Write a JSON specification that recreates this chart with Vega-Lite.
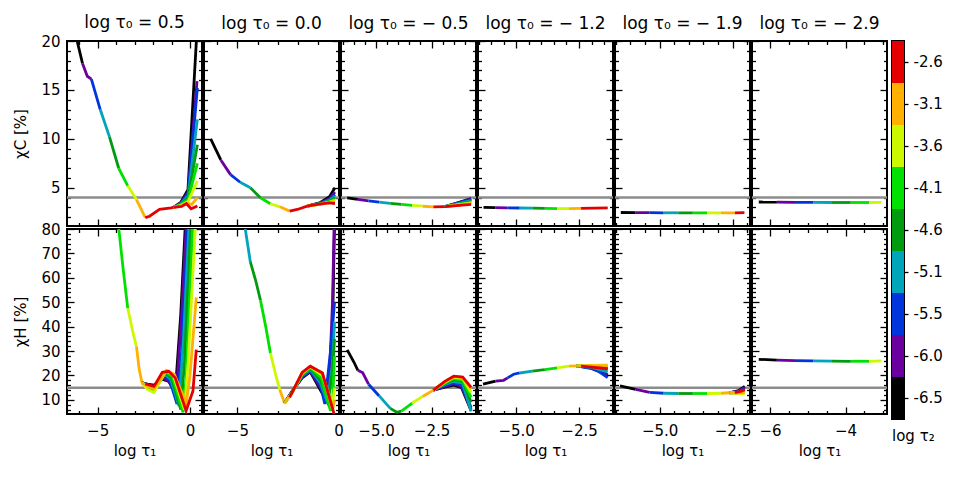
{
  "$schema": "https://vega.github.io/schema/vega-lite/v6.json",
  "padding": {"left": 12, "top": 13, "right": 5, "bottom": 5},
  "config": {
    "font": "DejaVu Sans",
    "view": {"stroke": "#000", "strokeWidth": 2},
    "axis": {"domain": false, "grid": false, "tickColor": "#000", "tickWidth": 1.3, "labelColor": "#000", "labelFontSize": 15, "labelOverlap": false, "labelFlush": false, "titleColor": "#000", "titleFontSize": 15, "titleFontWeight": "normal", "labelPadding": 14, "minExtent": 0},
    "axisX": {"labelPadding": 16, "titlePadding": 2},
    "axisY": {"titlePadding": 12},
    "title": {"fontSize": 17, "fontWeight": "normal", "color": "#000", "offset": 7, "frame": "group"}
  },
  "datasets": {
    "curves": [
      {"p":"1C","s":"t","l":"-6.5","x":-6.3,"y":21.5},{"p":"1C","s":"t","l":"-6.5","x":-5.82,"y":17.7},
      {"p":"1C","s":"t","l":"-6.0","x":-5.82,"y":17.7},{"p":"1C","s":"t","l":"-6.0","x":-5.56,"y":16.4},{"p":"1C","s":"t","l":"-6.0","x":-5.34,"y":16.1},
      {"p":"1C","s":"t","l":"-5.5","x":-5.34,"y":16.1},{"p":"1C","s":"t","l":"-5.5","x":-4.86,"y":13.0},
      {"p":"1C","s":"t","l":"-5.1","x":-4.86,"y":13.0},{"p":"1C","s":"t","l":"-5.1","x":-4.36,"y":10.2},
      {"p":"1C","s":"t","l":"-4.6","x":-4.36,"y":10.2},{"p":"1C","s":"t","l":"-4.6","x":-3.86,"y":7.0},
      {"p":"1C","s":"t","l":"-4.1","x":-3.86,"y":7.0},{"p":"1C","s":"t","l":"-4.1","x":-3.37,"y":5.2},
      {"p":"1C","s":"t","l":"-3.6","x":-3.37,"y":5.2},{"p":"1C","s":"t","l":"-3.6","x":-2.9,"y":3.8},
      {"p":"1C","s":"t","l":"-3.1","x":-2.9,"y":3.8},{"p":"1C","s":"t","l":"-3.1","x":-2.42,"y":1.95},
      {"p":"1C","s":"t","l":"-2.6","x":-2.42,"y":1.95},{"p":"1C","s":"t","l":"-2.6","x":-2.19,"y":2.1},{"p":"1C","s":"t","l":"-2.6","x":-1.65,"y":2.8},{"p":"1C","s":"t","l":"-2.6","x":-1.02,"y":2.96},{"p":"1C","s":"t","l":"-2.6","x":-0.9,"y":3.0},
      {"p":"1C","s":"f","l":"-6.5","x":-0.9,"y":3.0},{"p":"1C","s":"f","l":"-6.5","x":-0.5,"y":3.5},{"p":"1C","s":"f","l":"-6.5","x":-0.11,"y":4.8},{"p":"1C","s":"f","l":"-6.5","x":0.42,"y":22.5},
      {"p":"1C","s":"f","l":"-6.0","x":-0.9,"y":3.0},{"p":"1C","s":"f","l":"-6.0","x":-0.5,"y":3.45},{"p":"1C","s":"f","l":"-6.0","x":-0.1,"y":4.6},{"p":"1C","s":"f","l":"-6.0","x":0.38,"y":15.9},
      {"p":"1C","s":"f","l":"-5.5","x":-0.9,"y":3.0},{"p":"1C","s":"f","l":"-5.5","x":-0.5,"y":3.4},{"p":"1C","s":"f","l":"-5.5","x":-0.1,"y":4.4},{"p":"1C","s":"f","l":"-5.5","x":0.4,"y":15.2},
      {"p":"1C","s":"f","l":"-5.1","x":-0.9,"y":3.0},{"p":"1C","s":"f","l":"-5.1","x":-0.5,"y":3.35},{"p":"1C","s":"f","l":"-5.1","x":-0.1,"y":4.2},{"p":"1C","s":"f","l":"-5.1","x":0.4,"y":12.0},
      {"p":"1C","s":"f","l":"-4.6","x":-0.9,"y":3.0},{"p":"1C","s":"f","l":"-4.6","x":-0.5,"y":3.3},{"p":"1C","s":"f","l":"-4.6","x":-0.1,"y":4.0},{"p":"1C","s":"f","l":"-4.6","x":0.4,"y":9.4},
      {"p":"1C","s":"f","l":"-4.1","x":-0.9,"y":3.0},{"p":"1C","s":"f","l":"-4.1","x":-0.5,"y":3.25},{"p":"1C","s":"f","l":"-4.1","x":-0.1,"y":3.8},{"p":"1C","s":"f","l":"-4.1","x":0.4,"y":7.5},
      {"p":"1C","s":"f","l":"-3.6","x":-0.9,"y":3.0},{"p":"1C","s":"f","l":"-3.6","x":-0.5,"y":3.2},{"p":"1C","s":"f","l":"-3.6","x":-0.1,"y":3.6},{"p":"1C","s":"f","l":"-3.6","x":0.4,"y":5.7},
      {"p":"1C","s":"f","l":"-3.1","x":-0.9,"y":3.0},{"p":"1C","s":"f","l":"-3.1","x":-0.5,"y":3.15},{"p":"1C","s":"f","l":"-3.1","x":-0.1,"y":3.4},{"p":"1C","s":"f","l":"-3.1","x":0.1,"y":3.3},{"p":"1C","s":"f","l":"-3.1","x":0.4,"y":4.0},
      {"p":"1C","s":"f","l":"-2.6","x":-0.9,"y":3.0},{"p":"1C","s":"f","l":"-2.6","x":-0.45,"y":3.1},{"p":"1C","s":"f","l":"-2.6","x":-0.2,"y":3.4},{"p":"1C","s":"f","l":"-2.6","x":0.06,"y":2.86},{"p":"1C","s":"f","l":"-2.6","x":0.4,"y":3.15},

      {"p":"1H","s":"t","l":"-4.1","x":-3.86,"y":80.5},{"p":"1H","s":"t","l":"-4.1","x":-3.63,"y":64.3},{"p":"1H","s":"t","l":"-4.1","x":-3.37,"y":47.5},
      {"p":"1H","s":"t","l":"-3.6","x":-3.37,"y":47.5},{"p":"1H","s":"t","l":"-3.6","x":-3.1,"y":38.0},{"p":"1H","s":"t","l":"-3.6","x":-2.9,"y":31.9},
      {"p":"1H","s":"t","l":"-3.1","x":-2.9,"y":31.9},{"p":"1H","s":"t","l":"-3.1","x":-2.75,"y":22.5},{"p":"1H","s":"t","l":"-3.1","x":-2.6,"y":17.0},
      {"p":"1H","s":"f","l":"-6.5","x":-2.6,"y":17.0},{"p":"1H","s":"f","l":"-6.5","x":-2.3,"y":16.4},{"p":"1H","s":"f","l":"-6.5","x":-1.95,"y":16.0},{"p":"1H","s":"f","l":"-6.5","x":-1.5,"y":18.5},{"p":"1H","s":"f","l":"-6.5","x":-1.15,"y":17.5},{"p":"1H","s":"f","l":"-6.5","x":-0.8,"y":13.0},{"p":"1H","s":"f","l":"-6.5","x":-0.5,"y":45.0},{"p":"1H","s":"f","l":"-6.5","x":-0.25,"y":82.0},
      {"p":"1H","s":"f","l":"-6.0","x":-2.6,"y":17.0},{"p":"1H","s":"f","l":"-6.0","x":-2.3,"y":16.2},{"p":"1H","s":"f","l":"-6.0","x":-1.95,"y":15.5},{"p":"1H","s":"f","l":"-6.0","x":-1.5,"y":19.0},{"p":"1H","s":"f","l":"-6.0","x":-1.15,"y":17.8},{"p":"1H","s":"f","l":"-6.0","x":-0.75,"y":12.0},{"p":"1H","s":"f","l":"-6.0","x":-0.45,"y":45.0},{"p":"1H","s":"f","l":"-6.0","x":-0.2,"y":82.0},
      {"p":"1H","s":"f","l":"-5.5","x":-2.6,"y":17.0},{"p":"1H","s":"f","l":"-5.5","x":-2.3,"y":16.0},{"p":"1H","s":"f","l":"-5.5","x":-1.95,"y":15.0},{"p":"1H","s":"f","l":"-5.5","x":-1.45,"y":20.0},{"p":"1H","s":"f","l":"-5.5","x":-1.1,"y":18.0},{"p":"1H","s":"f","l":"-5.5","x":-0.7,"y":8.3},{"p":"1H","s":"f","l":"-5.5","x":-0.45,"y":30.0},{"p":"1H","s":"f","l":"-5.5","x":-0.12,"y":82.0},
      {"p":"1H","s":"f","l":"-5.1","x":-2.6,"y":17.0},{"p":"1H","s":"f","l":"-5.1","x":-2.3,"y":15.6},{"p":"1H","s":"f","l":"-5.1","x":-1.95,"y":14.5},{"p":"1H","s":"f","l":"-5.1","x":-1.4,"y":20.5},{"p":"1H","s":"f","l":"-5.1","x":-1.05,"y":18.5},{"p":"1H","s":"f","l":"-5.1","x":-0.6,"y":7.5},{"p":"1H","s":"f","l":"-5.1","x":-0.35,"y":35.0},{"p":"1H","s":"f","l":"-5.1","x":-0.05,"y":82.0},
      {"p":"1H","s":"f","l":"-4.6","x":-2.6,"y":17.0},{"p":"1H","s":"f","l":"-4.6","x":-2.3,"y":15.2},{"p":"1H","s":"f","l":"-4.6","x":-1.95,"y":14.0},{"p":"1H","s":"f","l":"-4.6","x":-1.35,"y":21.0},{"p":"1H","s":"f","l":"-4.6","x":-1.0,"y":19.0},{"p":"1H","s":"f","l":"-4.6","x":-0.5,"y":6.0},{"p":"1H","s":"f","l":"-4.6","x":-0.3,"y":25.0},{"p":"1H","s":"f","l":"-4.6","x":0.05,"y":82.0},
      {"p":"1H","s":"f","l":"-4.1","x":-2.6,"y":17.0},{"p":"1H","s":"f","l":"-4.1","x":-2.3,"y":14.8},{"p":"1H","s":"f","l":"-4.1","x":-1.95,"y":13.5},{"p":"1H","s":"f","l":"-4.1","x":-1.3,"y":21.5},{"p":"1H","s":"f","l":"-4.1","x":-0.95,"y":19.5},{"p":"1H","s":"f","l":"-4.1","x":-0.38,"y":4.9},{"p":"1H","s":"f","l":"-4.1","x":-0.2,"y":20.0},{"p":"1H","s":"f","l":"-4.1","x":0.15,"y":82.0},
      {"p":"1H","s":"f","l":"-3.6","x":-2.6,"y":17.0},{"p":"1H","s":"f","l":"-3.6","x":-2.3,"y":14.2},{"p":"1H","s":"f","l":"-3.6","x":-1.95,"y":13.0},{"p":"1H","s":"f","l":"-3.6","x":-1.3,"y":22.0},{"p":"1H","s":"f","l":"-3.6","x":-0.9,"y":20.0},{"p":"1H","s":"f","l":"-3.6","x":-0.3,"y":6.0},{"p":"1H","s":"f","l":"-3.6","x":-0.1,"y":25.0},{"p":"1H","s":"f","l":"-3.6","x":0.3,"y":82.0},
      {"p":"1H","s":"f","l":"-3.1","x":-2.6,"y":17.0},{"p":"1H","s":"f","l":"-3.1","x":-2.3,"y":15.5},{"p":"1H","s":"f","l":"-3.1","x":-1.95,"y":14.5},{"p":"1H","s":"f","l":"-3.1","x":-1.25,"y":22.0},{"p":"1H","s":"f","l":"-3.1","x":-0.85,"y":20.5},{"p":"1H","s":"f","l":"-3.1","x":-0.2,"y":8.5},{"p":"1H","s":"f","l":"-3.1","x":0.0,"y":20.0},{"p":"1H","s":"f","l":"-3.1","x":0.34,"y":52.0},
      {"p":"1H","s":"f","l":"-2.6","x":-2.42,"y":16.5},{"p":"1H","s":"f","l":"-2.6","x":-1.95,"y":15.5},{"p":"1H","s":"f","l":"-2.6","x":-1.5,"y":21.3},{"p":"1H","s":"f","l":"-2.6","x":-1.15,"y":21.7},{"p":"1H","s":"f","l":"-2.6","x":-0.8,"y":19.0},{"p":"1H","s":"f","l":"-2.6","x":-0.21,"y":5.5},{"p":"1H","s":"f","l":"-2.6","x":0.16,"y":13.6},{"p":"1H","s":"f","l":"-2.6","x":0.34,"y":30.6},

      {"p":"2C","s":"t","l":"-6.5","x":-6.32,"y":10.0},{"p":"2C","s":"t","l":"-6.5","x":-5.82,"y":7.85},
      {"p":"2C","s":"t","l":"-6.0","x":-5.82,"y":7.85},{"p":"2C","s":"t","l":"-6.0","x":-5.34,"y":6.35},
      {"p":"2C","s":"t","l":"-5.5","x":-5.34,"y":6.35},{"p":"2C","s":"t","l":"-5.5","x":-4.86,"y":5.57},
      {"p":"2C","s":"t","l":"-5.1","x":-4.86,"y":5.57},{"p":"2C","s":"t","l":"-5.1","x":-4.36,"y":5.0},
      {"p":"2C","s":"t","l":"-4.6","x":-4.36,"y":5.0},{"p":"2C","s":"t","l":"-4.6","x":-3.86,"y":3.98},
      {"p":"2C","s":"t","l":"-4.1","x":-3.86,"y":3.98},{"p":"2C","s":"t","l":"-4.1","x":-3.37,"y":3.37},
      {"p":"2C","s":"t","l":"-3.6","x":-3.37,"y":3.37},{"p":"2C","s":"t","l":"-3.6","x":-2.9,"y":3.06},
      {"p":"2C","s":"t","l":"-3.1","x":-2.9,"y":3.06},{"p":"2C","s":"t","l":"-3.1","x":-2.42,"y":2.62},
      {"p":"2C","s":"t","l":"-2.6","x":-2.42,"y":2.62},{"p":"2C","s":"t","l":"-2.6","x":-2.04,"y":2.79},{"p":"2C","s":"t","l":"-2.6","x":-1.55,"y":3.13},
      {"p":"2C","s":"f","l":"-6.5","x":-1.55,"y":3.13},{"p":"2C","s":"f","l":"-6.5","x":-0.9,"y":3.5},{"p":"2C","s":"f","l":"-6.5","x":-0.45,"y":4.1},{"p":"2C","s":"f","l":"-6.5","x":-0.18,"y":5.0},
      {"p":"2C","s":"f","l":"-6.0","x":-1.55,"y":3.13},{"p":"2C","s":"f","l":"-6.0","x":-0.9,"y":3.45},{"p":"2C","s":"f","l":"-6.0","x":-0.45,"y":3.9},{"p":"2C","s":"f","l":"-6.0","x":-0.18,"y":4.56},
      {"p":"2C","s":"f","l":"-5.5","x":-1.55,"y":3.13},{"p":"2C","s":"f","l":"-5.5","x":-0.9,"y":3.42},{"p":"2C","s":"f","l":"-5.5","x":-0.45,"y":3.8},{"p":"2C","s":"f","l":"-5.5","x":-0.18,"y":4.32},
      {"p":"2C","s":"f","l":"-5.1","x":-1.55,"y":3.13},{"p":"2C","s":"f","l":"-5.1","x":-0.9,"y":3.4},{"p":"2C","s":"f","l":"-5.1","x":-0.45,"y":3.72},{"p":"2C","s":"f","l":"-5.1","x":-0.18,"y":4.15},
      {"p":"2C","s":"f","l":"-4.6","x":-1.55,"y":3.13},{"p":"2C","s":"f","l":"-4.6","x":-0.9,"y":3.38},{"p":"2C","s":"f","l":"-4.6","x":-0.45,"y":3.65},{"p":"2C","s":"f","l":"-4.6","x":-0.18,"y":3.98},
      {"p":"2C","s":"f","l":"-4.1","x":-1.55,"y":3.13},{"p":"2C","s":"f","l":"-4.1","x":-0.9,"y":3.36},{"p":"2C","s":"f","l":"-4.1","x":-0.45,"y":3.58},{"p":"2C","s":"f","l":"-4.1","x":-0.18,"y":3.81},
      {"p":"2C","s":"f","l":"-3.6","x":-1.55,"y":3.13},{"p":"2C","s":"f","l":"-3.6","x":-0.9,"y":3.34},{"p":"2C","s":"f","l":"-3.6","x":-0.45,"y":3.54},{"p":"2C","s":"f","l":"-3.6","x":-0.18,"y":3.71},
      {"p":"2C","s":"f","l":"-3.1","x":-1.55,"y":3.13},{"p":"2C","s":"f","l":"-3.1","x":-0.9,"y":3.32},{"p":"2C","s":"f","l":"-3.1","x":-0.45,"y":3.5},{"p":"2C","s":"f","l":"-3.1","x":-0.18,"y":3.57},
      {"p":"2C","s":"f","l":"-2.6","x":-1.55,"y":3.13},{"p":"2C","s":"f","l":"-2.6","x":-1.06,"y":3.3},{"p":"2C","s":"f","l":"-2.6","x":-0.48,"y":3.47},{"p":"2C","s":"f","l":"-2.6","x":-0.18,"y":3.4},

      {"p":"2H","s":"t","l":"-5.1","x":-4.62,"y":80.5},{"p":"2H","s":"t","l":"-5.1","x":-4.36,"y":66.5},
      {"p":"2H","s":"t","l":"-4.6","x":-4.36,"y":66.5},{"p":"2H","s":"t","l":"-4.6","x":-4.1,"y":59.0},{"p":"2H","s":"t","l":"-4.6","x":-3.86,"y":50.8},
      {"p":"2H","s":"t","l":"-4.1","x":-3.86,"y":50.8},{"p":"2H","s":"t","l":"-4.1","x":-3.6,"y":40.0},{"p":"2H","s":"t","l":"-4.1","x":-3.37,"y":29.2},
      {"p":"2H","s":"t","l":"-3.6","x":-3.37,"y":29.2},{"p":"2H","s":"t","l":"-3.6","x":-3.1,"y":20.0},{"p":"2H","s":"t","l":"-3.6","x":-2.9,"y":14.0},
      {"p":"2H","s":"t","l":"-3.1","x":-2.9,"y":14.0},{"p":"2H","s":"t","l":"-3.1","x":-2.67,"y":8.7},
      {"p":"2H","s":"f","l":"-6.5","x":-2.67,"y":8.7},{"p":"2H","s":"f","l":"-6.5","x":-2.3,"y":13.5},{"p":"2H","s":"f","l":"-6.5","x":-1.8,"y":19.0},{"p":"2H","s":"f","l":"-6.5","x":-1.4,"y":21.5},{"p":"2H","s":"f","l":"-6.5","x":-0.9,"y":14.0},{"p":"2H","s":"f","l":"-6.5","x":-0.55,"y":9.0},{"p":"2H","s":"f","l":"-6.5","x":-0.3,"y":40.0},{"p":"2H","s":"f","l":"-6.5","x":-0.2,"y":82.0},
      {"p":"2H","s":"f","l":"-6.0","x":-2.67,"y":8.7},{"p":"2H","s":"f","l":"-6.0","x":-2.3,"y":13.3},{"p":"2H","s":"f","l":"-6.0","x":-1.8,"y":19.3},{"p":"2H","s":"f","l":"-6.0","x":-1.4,"y":21.8},{"p":"2H","s":"f","l":"-6.0","x":-0.9,"y":15.0},{"p":"2H","s":"f","l":"-6.0","x":-0.5,"y":10.0},{"p":"2H","s":"f","l":"-6.0","x":-0.3,"y":50.0},{"p":"2H","s":"f","l":"-6.0","x":-0.22,"y":82.0},
      {"p":"2H","s":"f","l":"-5.5","x":-2.67,"y":8.7},{"p":"2H","s":"f","l":"-5.5","x":-2.3,"y":13.2},{"p":"2H","s":"f","l":"-5.5","x":-1.8,"y":19.6},{"p":"2H","s":"f","l":"-5.5","x":-1.4,"y":22.0},{"p":"2H","s":"f","l":"-5.5","x":-0.9,"y":16.0},{"p":"2H","s":"f","l":"-5.5","x":-0.68,"y":8.3},{"p":"2H","s":"f","l":"-5.5","x":-0.4,"y":30.0},{"p":"2H","s":"f","l":"-5.5","x":-0.2,"y":50.0},
      {"p":"2H","s":"f","l":"-5.1","x":-2.67,"y":8.7},{"p":"2H","s":"f","l":"-5.1","x":-2.3,"y":13.1},{"p":"2H","s":"f","l":"-5.1","x":-1.8,"y":19.9},{"p":"2H","s":"f","l":"-5.1","x":-1.4,"y":22.5},{"p":"2H","s":"f","l":"-5.1","x":-0.9,"y":17.0},{"p":"2H","s":"f","l":"-5.1","x":-0.55,"y":9.0},{"p":"2H","s":"f","l":"-5.1","x":-0.3,"y":25.0},{"p":"2H","s":"f","l":"-5.1","x":-0.2,"y":42.0},
      {"p":"2H","s":"f","l":"-4.6","x":-2.67,"y":8.7},{"p":"2H","s":"f","l":"-4.6","x":-2.3,"y":13.0},{"p":"2H","s":"f","l":"-4.6","x":-1.8,"y":20.2},{"p":"2H","s":"f","l":"-4.6","x":-1.4,"y":23.0},{"p":"2H","s":"f","l":"-4.6","x":-0.9,"y":18.0},{"p":"2H","s":"f","l":"-4.6","x":-0.5,"y":10.0},{"p":"2H","s":"f","l":"-4.6","x":-0.3,"y":22.0},{"p":"2H","s":"f","l":"-4.6","x":-0.2,"y":35.0},
      {"p":"2H","s":"f","l":"-4.1","x":-2.67,"y":8.7},{"p":"2H","s":"f","l":"-4.1","x":-2.3,"y":12.9},{"p":"2H","s":"f","l":"-4.1","x":-1.8,"y":20.5},{"p":"2H","s":"f","l":"-4.1","x":-1.4,"y":23.3},{"p":"2H","s":"f","l":"-4.1","x":-0.85,"y":19.0},{"p":"2H","s":"f","l":"-4.1","x":-0.4,"y":5.5},{"p":"2H","s":"f","l":"-4.1","x":-0.28,"y":12.0},{"p":"2H","s":"f","l":"-4.1","x":-0.2,"y":28.0},
      {"p":"2H","s":"f","l":"-3.6","x":-2.67,"y":8.7},{"p":"2H","s":"f","l":"-3.6","x":-2.3,"y":12.8},{"p":"2H","s":"f","l":"-3.6","x":-1.8,"y":20.8},{"p":"2H","s":"f","l":"-3.6","x":-1.4,"y":23.5},{"p":"2H","s":"f","l":"-3.6","x":-0.8,"y":20.0},{"p":"2H","s":"f","l":"-3.6","x":-0.3,"y":8.0},{"p":"2H","s":"f","l":"-3.6","x":-0.2,"y":15.0},
      {"p":"2H","s":"f","l":"-3.1","x":-2.67,"y":8.7},{"p":"2H","s":"f","l":"-3.1","x":-2.3,"y":12.7},{"p":"2H","s":"f","l":"-3.1","x":-1.8,"y":21.0},{"p":"2H","s":"f","l":"-3.1","x":-1.4,"y":23.7},{"p":"2H","s":"f","l":"-3.1","x":-0.8,"y":21.0},{"p":"2H","s":"f","l":"-3.1","x":-0.3,"y":6.0},{"p":"2H","s":"f","l":"-3.1","x":-0.2,"y":10.0},
      {"p":"2H","s":"f","l":"-2.6","x":-2.42,"y":11.0},{"p":"2H","s":"f","l":"-2.6","x":-1.8,"y":21.2},{"p":"2H","s":"f","l":"-2.6","x":-1.4,"y":23.8},{"p":"2H","s":"f","l":"-2.6","x":-0.8,"y":21.0},{"p":"2H","s":"f","l":"-2.6","x":-0.35,"y":8.0},{"p":"2H","s":"f","l":"-2.6","x":-0.2,"y":3.5},

      {"p":"3C","s":"t","l":"-6.5","x":-6.3,"y":3.98},{"p":"3C","s":"t","l":"-6.5","x":-5.82,"y":3.82},
      {"p":"3C","s":"t","l":"-6.0","x":-5.82,"y":3.82},{"p":"3C","s":"t","l":"-6.0","x":-5.34,"y":3.66},
      {"p":"3C","s":"t","l":"-5.5","x":-5.34,"y":3.66},{"p":"3C","s":"t","l":"-5.5","x":-4.86,"y":3.54},
      {"p":"3C","s":"t","l":"-5.1","x":-4.86,"y":3.54},{"p":"3C","s":"t","l":"-5.1","x":-4.36,"y":3.42},
      {"p":"3C","s":"t","l":"-4.6","x":-4.36,"y":3.42},{"p":"3C","s":"t","l":"-4.6","x":-3.86,"y":3.3},
      {"p":"3C","s":"t","l":"-4.1","x":-3.86,"y":3.3},{"p":"3C","s":"t","l":"-4.1","x":-3.37,"y":3.2},
      {"p":"3C","s":"t","l":"-3.6","x":-3.37,"y":3.2},{"p":"3C","s":"t","l":"-3.6","x":-2.9,"y":3.12},
      {"p":"3C","s":"t","l":"-3.1","x":-2.9,"y":3.12},{"p":"3C","s":"t","l":"-3.1","x":-2.42,"y":3.05},
      {"p":"3C","s":"t","l":"-2.6","x":-2.42,"y":3.05},{"p":"3C","s":"t","l":"-2.6","x":-1.9,"y":3.07},
      {"p":"3C","s":"f","l":"-6.5","x":-1.9,"y":3.07},{"p":"3C","s":"f","l":"-6.5","x":-0.72,"y":3.9},
      {"p":"3C","s":"f","l":"-6.0","x":-1.9,"y":3.07},{"p":"3C","s":"f","l":"-6.0","x":-0.72,"y":3.85},
      {"p":"3C","s":"f","l":"-5.5","x":-1.9,"y":3.07},{"p":"3C","s":"f","l":"-5.5","x":-0.72,"y":3.8},
      {"p":"3C","s":"f","l":"-5.1","x":-1.9,"y":3.07},{"p":"3C","s":"f","l":"-5.1","x":-0.72,"y":3.7},
      {"p":"3C","s":"f","l":"-4.6","x":-1.9,"y":3.07},{"p":"3C","s":"f","l":"-4.6","x":-0.72,"y":3.6},
      {"p":"3C","s":"f","l":"-4.1","x":-1.9,"y":3.07},{"p":"3C","s":"f","l":"-4.1","x":-0.72,"y":3.5},
      {"p":"3C","s":"f","l":"-3.6","x":-1.9,"y":3.07},{"p":"3C","s":"f","l":"-3.6","x":-0.72,"y":3.45},
      {"p":"3C","s":"f","l":"-3.1","x":-1.9,"y":3.07},{"p":"3C","s":"f","l":"-3.1","x":-0.72,"y":3.38},
      {"p":"3C","s":"f","l":"-2.6","x":-1.9,"y":3.07},{"p":"3C","s":"f","l":"-2.6","x":-0.72,"y":3.3},

      {"p":"3H","s":"t","l":"-6.5","x":-6.3,"y":30.5},{"p":"3H","s":"t","l":"-6.5","x":-6.0,"y":25.5},{"p":"3H","s":"t","l":"-6.5","x":-5.82,"y":22.1},
      {"p":"3H","s":"t","l":"-6.0","x":-5.82,"y":22.1},{"p":"3H","s":"t","l":"-6.0","x":-5.6,"y":21.1},{"p":"3H","s":"t","l":"-6.0","x":-5.34,"y":16.4},
      {"p":"3H","s":"t","l":"-5.5","x":-5.34,"y":16.4},{"p":"3H","s":"t","l":"-5.5","x":-4.86,"y":11.6},
      {"p":"3H","s":"t","l":"-5.1","x":-4.86,"y":11.6},{"p":"3H","s":"t","l":"-5.1","x":-4.36,"y":6.5},
      {"p":"3H","s":"t","l":"-4.6","x":-4.36,"y":6.5},{"p":"3H","s":"t","l":"-4.6","x":-4.07,"y":4.9},{"p":"3H","s":"t","l":"-4.6","x":-3.86,"y":5.4},
      {"p":"3H","s":"t","l":"-4.1","x":-3.86,"y":5.4},{"p":"3H","s":"t","l":"-4.1","x":-3.37,"y":8.7},
      {"p":"3H","s":"t","l":"-3.6","x":-3.37,"y":8.7},{"p":"3H","s":"t","l":"-3.6","x":-2.9,"y":11.4},
      {"p":"3H","s":"t","l":"-3.1","x":-2.9,"y":11.4},{"p":"3H","s":"t","l":"-3.1","x":-2.42,"y":14.0},
      {"p":"3H","s":"f","l":"-6.5","x":-2.42,"y":14.0},{"p":"3H","s":"f","l":"-6.5","x":-1.9,"y":15.2},{"p":"3H","s":"f","l":"-6.5","x":-1.5,"y":16.0},{"p":"3H","s":"f","l":"-6.5","x":-1.15,"y":15.0},{"p":"3H","s":"f","l":"-6.5","x":-0.72,"y":5.5},
      {"p":"3H","s":"f","l":"-6.0","x":-2.42,"y":14.0},{"p":"3H","s":"f","l":"-6.0","x":-1.9,"y":15.5},{"p":"3H","s":"f","l":"-6.0","x":-1.5,"y":16.5},{"p":"3H","s":"f","l":"-6.0","x":-1.15,"y":15.5},{"p":"3H","s":"f","l":"-6.0","x":-0.72,"y":6.0},
      {"p":"3H","s":"f","l":"-5.5","x":-2.42,"y":14.0},{"p":"3H","s":"f","l":"-5.5","x":-1.9,"y":16.0},{"p":"3H","s":"f","l":"-5.5","x":-1.5,"y":17.0},{"p":"3H","s":"f","l":"-5.5","x":-1.15,"y":16.0},{"p":"3H","s":"f","l":"-5.5","x":-0.72,"y":6.8},
      {"p":"3H","s":"f","l":"-5.1","x":-2.42,"y":14.0},{"p":"3H","s":"f","l":"-5.1","x":-1.9,"y":16.3},{"p":"3H","s":"f","l":"-5.1","x":-1.5,"y":17.6},{"p":"3H","s":"f","l":"-5.1","x":-1.1,"y":16.8},{"p":"3H","s":"f","l":"-5.1","x":-0.72,"y":5.3},
      {"p":"3H","s":"f","l":"-4.6","x":-2.42,"y":14.0},{"p":"3H","s":"f","l":"-4.6","x":-1.9,"y":16.6},{"p":"3H","s":"f","l":"-4.6","x":-1.5,"y":18.2},{"p":"3H","s":"f","l":"-4.6","x":-1.1,"y":17.5},{"p":"3H","s":"f","l":"-4.6","x":-0.72,"y":9.0},
      {"p":"3H","s":"f","l":"-4.1","x":-2.42,"y":14.0},{"p":"3H","s":"f","l":"-4.1","x":-1.9,"y":16.9},{"p":"3H","s":"f","l":"-4.1","x":-1.5,"y":18.7},{"p":"3H","s":"f","l":"-4.1","x":-1.1,"y":18.0},{"p":"3H","s":"f","l":"-4.1","x":-0.72,"y":11.0},
      {"p":"3H","s":"f","l":"-3.6","x":-2.42,"y":14.0},{"p":"3H","s":"f","l":"-3.6","x":-1.9,"y":17.2},{"p":"3H","s":"f","l":"-3.6","x":-1.5,"y":19.2},{"p":"3H","s":"f","l":"-3.6","x":-1.1,"y":18.8},{"p":"3H","s":"f","l":"-3.6","x":-0.72,"y":13.0},
      {"p":"3H","s":"f","l":"-3.1","x":-2.42,"y":14.0},{"p":"3H","s":"f","l":"-3.1","x":-1.9,"y":17.5},{"p":"3H","s":"f","l":"-3.1","x":-1.5,"y":19.6},{"p":"3H","s":"f","l":"-3.1","x":-1.1,"y":19.2},{"p":"3H","s":"f","l":"-3.1","x":-0.72,"y":14.5},
      {"p":"3H","s":"f","l":"-2.6","x":-2.42,"y":14.0},{"p":"3H","s":"f","l":"-2.6","x":-1.9,"y":17.6},{"p":"3H","s":"f","l":"-2.6","x":-1.5,"y":19.7},{"p":"3H","s":"f","l":"-2.6","x":-1.1,"y":19.3},{"p":"3H","s":"f","l":"-2.6","x":-0.72,"y":15.1},

      {"p":"4C","s":"t","l":"-6.5","x":-6.3,"y":3.0},{"p":"4C","s":"t","l":"-6.5","x":-5.82,"y":2.98},
      {"p":"4C","s":"t","l":"-6.0","x":-5.82,"y":2.98},{"p":"4C","s":"t","l":"-6.0","x":-5.34,"y":2.96},
      {"p":"4C","s":"t","l":"-5.5","x":-5.34,"y":2.96},{"p":"4C","s":"t","l":"-5.5","x":-4.86,"y":2.94},
      {"p":"4C","s":"t","l":"-5.1","x":-4.86,"y":2.94},{"p":"4C","s":"t","l":"-5.1","x":-4.36,"y":2.92},
      {"p":"4C","s":"t","l":"-4.6","x":-4.36,"y":2.92},{"p":"4C","s":"t","l":"-4.6","x":-3.86,"y":2.9},
      {"p":"4C","s":"t","l":"-4.1","x":-3.86,"y":2.9},{"p":"4C","s":"t","l":"-4.1","x":-3.37,"y":2.88},
      {"p":"4C","s":"t","l":"-3.6","x":-3.37,"y":2.88},{"p":"4C","s":"t","l":"-3.6","x":-2.9,"y":2.88},
      {"p":"4C","s":"t","l":"-3.1","x":-2.9,"y":2.88},{"p":"4C","s":"t","l":"-3.1","x":-2.42,"y":2.9},
      {"p":"4C","s":"t","l":"-2.6","x":-2.42,"y":2.9},{"p":"4C","s":"t","l":"-2.6","x":-1.9,"y":2.92},{"p":"4C","s":"t","l":"-2.6","x":-1.36,"y":2.95},

      {"p":"4H","s":"t","l":"-6.5","x":-6.32,"y":16.4},{"p":"4H","s":"t","l":"-6.5","x":-5.82,"y":17.7},
      {"p":"4H","s":"t","l":"-6.0","x":-5.82,"y":17.7},{"p":"4H","s":"t","l":"-6.0","x":-5.5,"y":18.0},{"p":"4H","s":"t","l":"-6.0","x":-5.34,"y":19.0},
      {"p":"4H","s":"t","l":"-5.5","x":-5.34,"y":19.0},{"p":"4H","s":"t","l":"-5.5","x":-5.1,"y":20.5},{"p":"4H","s":"t","l":"-5.5","x":-4.86,"y":21.0},
      {"p":"4H","s":"t","l":"-5.1","x":-4.86,"y":21.0},{"p":"4H","s":"t","l":"-5.1","x":-4.36,"y":21.8},
      {"p":"4H","s":"t","l":"-4.6","x":-4.36,"y":21.8},{"p":"4H","s":"t","l":"-4.6","x":-3.86,"y":22.4},
      {"p":"4H","s":"t","l":"-4.1","x":-3.86,"y":22.4},{"p":"4H","s":"t","l":"-4.1","x":-3.37,"y":23.1},
      {"p":"4H","s":"t","l":"-3.6","x":-3.37,"y":23.1},{"p":"4H","s":"t","l":"-3.6","x":-2.9,"y":23.8},
      {"p":"4H","s":"t","l":"-3.1","x":-2.9,"y":23.8},{"p":"4H","s":"t","l":"-3.1","x":-2.6,"y":23.9},
      {"p":"4H","s":"f","l":"-6.5","x":-2.6,"y":23.9},{"p":"4H","s":"f","l":"-6.5","x":-2.0,"y":23.2},{"p":"4H","s":"f","l":"-6.5","x":-1.36,"y":20.0},
      {"p":"4H","s":"f","l":"-6.0","x":-2.6,"y":23.9},{"p":"4H","s":"f","l":"-6.0","x":-2.0,"y":23.0},{"p":"4H","s":"f","l":"-6.0","x":-1.7,"y":22.0},{"p":"4H","s":"f","l":"-6.0","x":-1.36,"y":20.3},
      {"p":"4H","s":"f","l":"-5.5","x":-2.6,"y":23.9},{"p":"4H","s":"f","l":"-5.5","x":-2.0,"y":22.8},{"p":"4H","s":"f","l":"-5.5","x":-1.7,"y":21.5},{"p":"4H","s":"f","l":"-5.5","x":-1.36,"y":19.1},
      {"p":"4H","s":"f","l":"-5.1","x":-2.6,"y":23.9},{"p":"4H","s":"f","l":"-5.1","x":-2.0,"y":23.3},{"p":"4H","s":"f","l":"-5.1","x":-1.36,"y":21.5},
      {"p":"4H","s":"f","l":"-4.6","x":-2.6,"y":23.9},{"p":"4H","s":"f","l":"-4.6","x":-2.0,"y":23.6},{"p":"4H","s":"f","l":"-4.6","x":-1.36,"y":22.6},
      {"p":"4H","s":"f","l":"-4.1","x":-2.6,"y":23.9},{"p":"4H","s":"f","l":"-4.1","x":-2.0,"y":23.9},{"p":"4H","s":"f","l":"-4.1","x":-1.36,"y":23.5},
      {"p":"4H","s":"f","l":"-3.6","x":-2.6,"y":23.9},{"p":"4H","s":"f","l":"-3.6","x":-2.0,"y":24.1},{"p":"4H","s":"f","l":"-3.6","x":-1.36,"y":24.3},
      {"p":"4H","s":"f","l":"-3.1","x":-2.6,"y":23.9},{"p":"4H","s":"f","l":"-3.1","x":-2.0,"y":24.0},{"p":"4H","s":"f","l":"-3.1","x":-1.36,"y":24.0},
      {"p":"4H","s":"f","l":"-2.6","x":-2.42,"y":23.8},{"p":"4H","s":"f","l":"-2.6","x":-2.0,"y":23.4},{"p":"4H","s":"f","l":"-2.6","x":-1.36,"y":22.8},

      {"p":"5C","s":"t","l":"-6.5","x":-6.33,"y":2.48},{"p":"5C","s":"t","l":"-6.5","x":-5.82,"y":2.47},
      {"p":"5C","s":"t","l":"-6.0","x":-5.82,"y":2.47},{"p":"5C","s":"t","l":"-6.0","x":-5.34,"y":2.46},
      {"p":"5C","s":"t","l":"-5.5","x":-5.34,"y":2.46},{"p":"5C","s":"t","l":"-5.5","x":-4.86,"y":2.45},
      {"p":"5C","s":"t","l":"-5.1","x":-4.86,"y":2.45},{"p":"5C","s":"t","l":"-5.1","x":-4.36,"y":2.45},
      {"p":"5C","s":"t","l":"-4.6","x":-4.36,"y":2.45},{"p":"5C","s":"t","l":"-4.6","x":-3.86,"y":2.44},
      {"p":"5C","s":"t","l":"-4.1","x":-3.86,"y":2.44},{"p":"5C","s":"t","l":"-4.1","x":-3.37,"y":2.44},
      {"p":"5C","s":"t","l":"-3.6","x":-3.37,"y":2.44},{"p":"5C","s":"t","l":"-3.6","x":-2.9,"y":2.44},
      {"p":"5C","s":"t","l":"-3.1","x":-2.9,"y":2.44},{"p":"5C","s":"t","l":"-3.1","x":-2.42,"y":2.45},
      {"p":"5C","s":"t","l":"-2.6","x":-2.42,"y":2.45},{"p":"5C","s":"t","l":"-2.6","x":-2.09,"y":2.46},

      {"p":"5H","s":"t","l":"-6.5","x":-6.36,"y":15.7},{"p":"5H","s":"t","l":"-6.5","x":-5.82,"y":14.3},
      {"p":"5H","s":"t","l":"-6.0","x":-5.82,"y":14.3},{"p":"5H","s":"t","l":"-6.0","x":-5.34,"y":13.1},
      {"p":"5H","s":"t","l":"-5.5","x":-5.34,"y":13.1},{"p":"5H","s":"t","l":"-5.5","x":-4.86,"y":12.7},
      {"p":"5H","s":"t","l":"-5.1","x":-4.86,"y":12.7},{"p":"5H","s":"t","l":"-5.1","x":-4.36,"y":12.6},
      {"p":"5H","s":"t","l":"-4.6","x":-4.36,"y":12.6},{"p":"5H","s":"t","l":"-4.6","x":-3.86,"y":12.6},
      {"p":"5H","s":"t","l":"-4.1","x":-3.86,"y":12.6},{"p":"5H","s":"t","l":"-4.1","x":-3.37,"y":12.6},
      {"p":"5H","s":"t","l":"-3.6","x":-3.37,"y":12.6},{"p":"5H","s":"t","l":"-3.6","x":-2.9,"y":12.7},
      {"p":"5H","s":"t","l":"-3.1","x":-2.9,"y":12.7},{"p":"5H","s":"t","l":"-3.1","x":-2.6,"y":12.9},
      {"p":"5H","s":"f","l":"-6.5","x":-2.6,"y":12.9},{"p":"5H","s":"f","l":"-6.5","x":-2.3,"y":13.8},{"p":"5H","s":"f","l":"-6.5","x":-2.08,"y":15.5},
      {"p":"5H","s":"f","l":"-6.0","x":-2.6,"y":12.9},{"p":"5H","s":"f","l":"-6.0","x":-2.3,"y":13.6},{"p":"5H","s":"f","l":"-6.0","x":-2.08,"y":15.0},
      {"p":"5H","s":"f","l":"-5.5","x":-2.6,"y":12.9},{"p":"5H","s":"f","l":"-5.5","x":-2.3,"y":13.4},{"p":"5H","s":"f","l":"-5.5","x":-2.08,"y":14.5},
      {"p":"5H","s":"f","l":"-5.1","x":-2.6,"y":12.9},{"p":"5H","s":"f","l":"-5.1","x":-2.3,"y":13.2},{"p":"5H","s":"f","l":"-5.1","x":-2.08,"y":14.0},
      {"p":"5H","s":"f","l":"-4.6","x":-2.6,"y":12.9},{"p":"5H","s":"f","l":"-4.6","x":-2.3,"y":13.0},{"p":"5H","s":"f","l":"-4.6","x":-2.08,"y":13.5},
      {"p":"5H","s":"f","l":"-4.1","x":-2.6,"y":12.9},{"p":"5H","s":"f","l":"-4.1","x":-2.3,"y":12.9},{"p":"5H","s":"f","l":"-4.1","x":-2.08,"y":13.0},
      {"p":"5H","s":"f","l":"-3.6","x":-2.6,"y":12.9},{"p":"5H","s":"f","l":"-3.6","x":-2.3,"y":12.7},{"p":"5H","s":"f","l":"-3.6","x":-2.08,"y":12.5},
      {"p":"5H","s":"f","l":"-3.1","x":-2.6,"y":12.9},{"p":"5H","s":"f","l":"-3.1","x":-2.3,"y":12.9},{"p":"5H","s":"f","l":"-3.1","x":-2.08,"y":13.0},
      {"p":"5H","s":"f","l":"-2.6","x":-2.42,"y":13.0},{"p":"5H","s":"f","l":"-2.6","x":-2.2,"y":13.6},{"p":"5H","s":"f","l":"-2.6","x":-2.08,"y":14.2},

      {"p":"6C","s":"t","l":"-6.5","x":-6.3,"y":3.55},{"p":"6C","s":"t","l":"-6.5","x":-5.82,"y":3.53},
      {"p":"6C","s":"t","l":"-6.0","x":-5.82,"y":3.53},{"p":"6C","s":"t","l":"-6.0","x":-5.34,"y":3.52},
      {"p":"6C","s":"t","l":"-5.5","x":-5.34,"y":3.52},{"p":"6C","s":"t","l":"-5.5","x":-4.86,"y":3.51},
      {"p":"6C","s":"t","l":"-5.1","x":-4.86,"y":3.51},{"p":"6C","s":"t","l":"-5.1","x":-4.36,"y":3.5},
      {"p":"6C","s":"t","l":"-4.6","x":-4.36,"y":3.5},{"p":"6C","s":"t","l":"-4.6","x":-3.86,"y":3.5},
      {"p":"6C","s":"t","l":"-4.1","x":-3.86,"y":3.5},{"p":"6C","s":"t","l":"-4.1","x":-3.37,"y":3.5},
      {"p":"6C","s":"t","l":"-3.6","x":-3.37,"y":3.5},{"p":"6C","s":"t","l":"-3.6","x":-3.05,"y":3.52},

      {"p":"6H","s":"t","l":"-6.5","x":-6.3,"y":26.6},{"p":"6H","s":"t","l":"-6.5","x":-5.82,"y":26.3},
      {"p":"6H","s":"t","l":"-6.0","x":-5.82,"y":26.3},{"p":"6H","s":"t","l":"-6.0","x":-5.34,"y":26.1},
      {"p":"6H","s":"t","l":"-5.5","x":-5.34,"y":26.1},{"p":"6H","s":"t","l":"-5.5","x":-4.86,"y":26.0},
      {"p":"6H","s":"t","l":"-5.1","x":-4.86,"y":26.0},{"p":"6H","s":"t","l":"-5.1","x":-4.36,"y":25.9},
      {"p":"6H","s":"t","l":"-4.6","x":-4.36,"y":25.9},{"p":"6H","s":"t","l":"-4.6","x":-3.86,"y":25.8},
      {"p":"6H","s":"t","l":"-4.1","x":-3.86,"y":25.8},{"p":"6H","s":"t","l":"-4.1","x":-3.37,"y":25.8},
      {"p":"6H","s":"t","l":"-3.6","x":-3.37,"y":25.8},{"p":"6H","s":"t","l":"-3.6","x":-3.05,"y":26.0}
    ]
  },
  "spacing": 1,
  "hconcat": [
    {
      "columns": 6,
      "spacing": {"row": 3, "column": 2},
      "bounds": "flush",
      "concat": [
        {"width": 135, "height": 185, "title": {"text": "log τ₀ = 0.5", "offset": 2},
         "layer": [
           {"data": {"values": [{}]}, "mark": {"type": "rule", "color": "#8c8c8c", "strokeWidth": 2.5},
            "encoding": {
              "x": {"datum": -6.66, "type": "quantitative", "scale": {"domain": [-6.66, 0.65], "nice": false}, "axis": {"orient": "top", "values": [-6,-5,-4,-3,-2,-1,0], "labels": false, "title": null, "tickSize": {"condition": {"test": "datum.value % 5 === 0", "value": -7}, "value": -3.5}}},
              "x2": {"datum": 0.65},
              "y": {"datum": 4, "type": "quantitative", "scale": {"domain": [1.1, 20], "nice": false}, "axis": {"orient": "right", "values": [2,3,4,5,6,7,8,9,10,11,12,13,14,15,16,17,18,19,20], "labels": false, "title": null, "tickSize": {"condition": {"test": "datum.value % 5 === 0", "value": -7}, "value": -3.5}}}}},
           {"data": {"name": "curves"}, "transform": [{"filter": "datum.p === '1C'"}], "mark": {"type": "line", "strokeWidth": 2.8, "clip": true},
            "encoding": {
              "x": {"field": "x", "type": "quantitative", "scale": {"domain": [-6.66, 0.65], "nice": false}, "axis": {"orient": "bottom", "values": [-6,-5,-4,-3,-2,-1,0], "labels": false, "title": null, "tickSize": {"condition": {"test": "datum.value % 5 === 0", "value": -7}, "value": -3.5}}},
              "y": {"field": "y", "type": "quantitative", "scale": {"domain": [1.1, 20], "nice": false}, "axis": {"orient": "left", "values": [2,3,4,5,6,7,8,9,10,11,12,13,14,15,16,17,18,19,20], "labelExpr": "datum.value % 5 === 0 ? datum.label : ''", "title": "χC [%]", "tickSize": {"condition": {"test": "datum.value % 5 === 0", "value": -7}, "value": -3.5}}},
              "color": {"field": "l", "type": "ordinal", "scale": {"domain": ["-6.5","-6.0","-5.5","-5.1","-4.6","-4.1","-3.6","-3.1","-2.6"], "range": ["#000000","#6a009d","#0035dd","#00a4bb","#009b0f","#00e100","#ccf900","#ffb000","#e40000"]}, "legend": null},
              "detail": {"field": "s"}}}
         ],
         "resolve": {"axis": {"x": "independent", "y": "independent"}}},
        {"width": 135, "height": 185, "title": "log τ₀ = 0.0",
         "layer": [
           {"data": {"values": [{}]}, "mark": {"type": "rule", "color": "#8c8c8c", "strokeWidth": 2.5},
            "encoding": {
              "x": {"datum": -6.65, "type": "quantitative", "scale": {"domain": [-6.65, 0.02], "nice": false}, "axis": {"orient": "top", "values": [-6,-5,-4,-3,-2,-1,0], "labels": false, "title": null, "tickSize": {"condition": {"test": "datum.value % 5 === 0", "value": -7}, "value": -3.5}}},
              "x2": {"datum": 0.02},
              "y": {"datum": 4, "type": "quantitative", "scale": {"domain": [1.1, 20], "nice": false}, "axis": {"orient": "right", "values": [2,3,4,5,6,7,8,9,10,11,12,13,14,15,16,17,18,19,20], "labels": false, "title": null, "tickSize": {"condition": {"test": "datum.value % 5 === 0", "value": -7}, "value": -3.5}}}}},
           {"data": {"name": "curves"}, "transform": [{"filter": "datum.p === '2C'"}], "mark": {"type": "line", "strokeWidth": 2.8, "clip": true},
            "encoding": {
              "x": {"field": "x", "type": "quantitative", "scale": {"domain": [-6.65, 0.02], "nice": false}, "axis": {"orient": "bottom", "values": [-6,-5,-4,-3,-2,-1,0], "labels": false, "title": null, "tickSize": {"condition": {"test": "datum.value % 5 === 0", "value": -7}, "value": -3.5}}},
              "y": {"field": "y", "type": "quantitative", "scale": {"domain": [1.1, 20], "nice": false}, "axis": {"orient": "left", "values": [2,3,4,5,6,7,8,9,10,11,12,13,14,15,16,17,18,19,20], "labels": false, "title": null, "tickSize": {"condition": {"test": "datum.value % 5 === 0", "value": -7}, "value": -3.5}}},
              "color": {"field": "l", "type": "ordinal", "scale": {"domain": ["-6.5","-6.0","-5.5","-5.1","-4.6","-4.1","-3.6","-3.1","-2.6"], "range": ["#000000","#6a009d","#0035dd","#00a4bb","#009b0f","#00e100","#ccf900","#ffb000","#e40000"]}, "legend": null},
              "detail": {"field": "s"}}}
         ],
         "resolve": {"axis": {"x": "independent", "y": "independent"}}},
        {"width": 135, "height": 185, "title": "log τ₀ = − 0.5",
         "layer": [
           {"data": {"values": [{}]}, "mark": {"type": "rule", "color": "#8c8c8c", "strokeWidth": 2.5},
            "encoding": {
              "x": {"datum": -6.58, "type": "quantitative", "scale": {"domain": [-6.58, -0.5], "nice": false}, "axis": {"orient": "top", "values": [-6.5,-6,-5.5,-5,-4.5,-4,-3.5,-3,-2.5,-2,-1.5,-1,-0.5], "labels": false, "title": null, "tickSize": {"condition": {"test": "datum.value % 2.5 === 0", "value": -7}, "value": -3.5}}},
              "x2": {"datum": -0.5},
              "y": {"datum": 4, "type": "quantitative", "scale": {"domain": [1.1, 20], "nice": false}, "axis": {"orient": "right", "values": [2,3,4,5,6,7,8,9,10,11,12,13,14,15,16,17,18,19,20], "labels": false, "title": null, "tickSize": {"condition": {"test": "datum.value % 5 === 0", "value": -7}, "value": -3.5}}}}},
           {"data": {"name": "curves"}, "transform": [{"filter": "datum.p === '3C'"}], "mark": {"type": "line", "strokeWidth": 2.8, "clip": true},
            "encoding": {
              "x": {"field": "x", "type": "quantitative", "scale": {"domain": [-6.58, -0.5], "nice": false}, "axis": {"orient": "bottom", "values": [-6.5,-6,-5.5,-5,-4.5,-4,-3.5,-3,-2.5,-2,-1.5,-1,-0.5], "labels": false, "title": null, "tickSize": {"condition": {"test": "datum.value % 2.5 === 0", "value": -7}, "value": -3.5}}},
              "y": {"field": "y", "type": "quantitative", "scale": {"domain": [1.1, 20], "nice": false}, "axis": {"orient": "left", "values": [2,3,4,5,6,7,8,9,10,11,12,13,14,15,16,17,18,19,20], "labels": false, "title": null, "tickSize": {"condition": {"test": "datum.value % 5 === 0", "value": -7}, "value": -3.5}}},
              "color": {"field": "l", "type": "ordinal", "scale": {"domain": ["-6.5","-6.0","-5.5","-5.1","-4.6","-4.1","-3.6","-3.1","-2.6"], "range": ["#000000","#6a009d","#0035dd","#00a4bb","#009b0f","#00e100","#ccf900","#ffb000","#e40000"]}, "legend": null},
              "detail": {"field": "s"}}}
         ],
         "resolve": {"axis": {"x": "independent", "y": "independent"}}},
        {"width": 135, "height": 185, "title": "log τ₀ = − 1.2",
         "layer": [
           {"data": {"values": [{}]}, "mark": {"type": "rule", "color": "#8c8c8c", "strokeWidth": 2.5},
            "encoding": {
              "x": {"datum": -6.52, "type": "quantitative", "scale": {"domain": [-6.52, -1.15], "nice": false}, "axis": {"orient": "top", "values": [-6.5,-6,-5.5,-5,-4.5,-4,-3.5,-3,-2.5,-2,-1.5], "labels": false, "title": null, "tickSize": {"condition": {"test": "datum.value % 2.5 === 0", "value": -7}, "value": -3.5}}},
              "x2": {"datum": -1.15},
              "y": {"datum": 4, "type": "quantitative", "scale": {"domain": [1.1, 20], "nice": false}, "axis": {"orient": "right", "values": [2,3,4,5,6,7,8,9,10,11,12,13,14,15,16,17,18,19,20], "labels": false, "title": null, "tickSize": {"condition": {"test": "datum.value % 5 === 0", "value": -7}, "value": -3.5}}}}},
           {"data": {"name": "curves"}, "transform": [{"filter": "datum.p === '4C'"}], "mark": {"type": "line", "strokeWidth": 2.8, "clip": true},
            "encoding": {
              "x": {"field": "x", "type": "quantitative", "scale": {"domain": [-6.52, -1.15], "nice": false}, "axis": {"orient": "bottom", "values": [-6.5,-6,-5.5,-5,-4.5,-4,-3.5,-3,-2.5,-2,-1.5], "labels": false, "title": null, "tickSize": {"condition": {"test": "datum.value % 2.5 === 0", "value": -7}, "value": -3.5}}},
              "y": {"field": "y", "type": "quantitative", "scale": {"domain": [1.1, 20], "nice": false}, "axis": {"orient": "left", "values": [2,3,4,5,6,7,8,9,10,11,12,13,14,15,16,17,18,19,20], "labels": false, "title": null, "tickSize": {"condition": {"test": "datum.value % 5 === 0", "value": -7}, "value": -3.5}}},
              "color": {"field": "l", "type": "ordinal", "scale": {"domain": ["-6.5","-6.0","-5.5","-5.1","-4.6","-4.1","-3.6","-3.1","-2.6"], "range": ["#000000","#6a009d","#0035dd","#00a4bb","#009b0f","#00e100","#ccf900","#ffb000","#e40000"]}, "legend": null},
              "detail": {"field": "s"}}}
         ],
         "resolve": {"axis": {"x": "independent", "y": "independent"}}},
        {"width": 135, "height": 185, "title": "log τ₀ = − 1.9",
         "layer": [
           {"data": {"values": [{}]}, "mark": {"type": "rule", "color": "#8c8c8c", "strokeWidth": 2.5},
            "encoding": {
              "x": {"datum": -6.53, "type": "quantitative", "scale": {"domain": [-6.53, -1.9], "nice": false}, "axis": {"orient": "top", "values": [-6.5,-6,-5.5,-5,-4.5,-4,-3.5,-3,-2.5,-2], "labels": false, "title": null, "tickSize": {"condition": {"test": "datum.value % 2.5 === 0", "value": -7}, "value": -3.5}}},
              "x2": {"datum": -1.9},
              "y": {"datum": 4, "type": "quantitative", "scale": {"domain": [1.1, 20], "nice": false}, "axis": {"orient": "right", "values": [2,3,4,5,6,7,8,9,10,11,12,13,14,15,16,17,18,19,20], "labels": false, "title": null, "tickSize": {"condition": {"test": "datum.value % 5 === 0", "value": -7}, "value": -3.5}}}}},
           {"data": {"name": "curves"}, "transform": [{"filter": "datum.p === '5C'"}], "mark": {"type": "line", "strokeWidth": 2.8, "clip": true},
            "encoding": {
              "x": {"field": "x", "type": "quantitative", "scale": {"domain": [-6.53, -1.9], "nice": false}, "axis": {"orient": "bottom", "values": [-6.5,-6,-5.5,-5,-4.5,-4,-3.5,-3,-2.5,-2], "labels": false, "title": null, "tickSize": {"condition": {"test": "datum.value % 2.5 === 0", "value": -7}, "value": -3.5}}},
              "y": {"field": "y", "type": "quantitative", "scale": {"domain": [1.1, 20], "nice": false}, "axis": {"orient": "left", "values": [2,3,4,5,6,7,8,9,10,11,12,13,14,15,16,17,18,19,20], "labels": false, "title": null, "tickSize": {"condition": {"test": "datum.value % 5 === 0", "value": -7}, "value": -3.5}}},
              "color": {"field": "l", "type": "ordinal", "scale": {"domain": ["-6.5","-6.0","-5.5","-5.1","-4.6","-4.1","-3.6","-3.1","-2.6"], "range": ["#000000","#6a009d","#0035dd","#00a4bb","#009b0f","#00e100","#ccf900","#ffb000","#e40000"]}, "legend": null},
              "detail": {"field": "s"}}}
         ],
         "resolve": {"axis": {"x": "independent", "y": "independent"}}},
        {"width": 135, "height": 185, "title": "log τ₀ = − 2.9",
         "layer": [
           {"data": {"values": [{}]}, "mark": {"type": "rule", "color": "#8c8c8c", "strokeWidth": 2.5},
            "encoding": {
              "x": {"datum": -6.48, "type": "quantitative", "scale": {"domain": [-6.48, -2.9], "nice": false}, "axis": {"orient": "top", "values": [-6.5,-6,-5.5,-5,-4.5,-4,-3.5,-3], "labels": false, "title": null, "tickSize": {"condition": {"test": "datum.value % 2 === 0", "value": -7}, "value": -3.5}}},
              "x2": {"datum": -2.9},
              "y": {"datum": 4, "type": "quantitative", "scale": {"domain": [1.1, 20], "nice": false}, "axis": {"orient": "right", "values": [2,3,4,5,6,7,8,9,10,11,12,13,14,15,16,17,18,19,20], "labels": false, "title": null, "tickSize": {"condition": {"test": "datum.value % 5 === 0", "value": -7}, "value": -3.5}}}}},
           {"data": {"name": "curves"}, "transform": [{"filter": "datum.p === '6C'"}], "mark": {"type": "line", "strokeWidth": 2.8, "clip": true},
            "encoding": {
              "x": {"field": "x", "type": "quantitative", "scale": {"domain": [-6.48, -2.9], "nice": false}, "axis": {"orient": "bottom", "values": [-6.5,-6,-5.5,-5,-4.5,-4,-3.5,-3], "labels": false, "title": null, "tickSize": {"condition": {"test": "datum.value % 2 === 0", "value": -7}, "value": -3.5}}},
              "y": {"field": "y", "type": "quantitative", "scale": {"domain": [1.1, 20], "nice": false}, "axis": {"orient": "left", "values": [2,3,4,5,6,7,8,9,10,11,12,13,14,15,16,17,18,19,20], "labels": false, "title": null, "tickSize": {"condition": {"test": "datum.value % 5 === 0", "value": -7}, "value": -3.5}}},
              "color": {"field": "l", "type": "ordinal", "scale": {"domain": ["-6.5","-6.0","-5.5","-5.1","-4.6","-4.1","-3.6","-3.1","-2.6"], "range": ["#000000","#6a009d","#0035dd","#00a4bb","#009b0f","#00e100","#ccf900","#ffb000","#e40000"]}, "legend": null},
              "detail": {"field": "s"}}}
         ],
         "resolve": {"axis": {"x": "independent", "y": "independent"}}},

        {"width": 135, "height": 185,
         "layer": [
           {"data": {"values": [{}]}, "mark": {"type": "rule", "color": "#8c8c8c", "strokeWidth": 2.5},
            "encoding": {
              "x": {"datum": -6.66, "type": "quantitative", "scale": {"domain": [-6.66, 0.65], "nice": false}, "axis": {"orient": "top", "values": [-6,-5,-4,-3,-2,-1,0], "labels": false, "title": null, "tickSize": {"condition": {"test": "datum.value % 5 === 0", "value": -7}, "value": -3.5}}},
              "x2": {"datum": 0.65},
              "y": {"datum": 15, "type": "quantitative", "scale": {"domain": [4.2, 80], "nice": false}, "axis": {"orient": "right", "values": [6,8,10,12,14,16,18,20,22,24,26,28,30,32,34,36,38,40,42,44,46,48,50,52,54,56,58,60,62,64,66,68,70,72,74,76,78,80], "labels": false, "title": null, "tickSize": {"condition": {"test": "datum.value % 10 === 0", "value": -7}, "value": -3.5}}}}},
           {"data": {"name": "curves"}, "transform": [{"filter": "datum.p === '1H'"}], "mark": {"type": "line", "strokeWidth": 2.8, "clip": true},
            "encoding": {
              "x": {"field": "x", "type": "quantitative", "scale": {"domain": [-6.66, 0.65], "nice": false}, "axis": {"orient": "bottom", "values": [-6,-5,-4,-3,-2,-1,0], "format": ".0f", "labelExpr": "datum.value % 5 === 0 ? datum.label : ''", "title": "log τ₁", "tickSize": {"condition": {"test": "datum.value % 5 === 0", "value": -7}, "value": -3.5}}},
              "y": {"field": "y", "type": "quantitative", "scale": {"domain": [4.2, 80], "nice": false}, "axis": {"orient": "left", "values": [6,8,10,12,14,16,18,20,22,24,26,28,30,32,34,36,38,40,42,44,46,48,50,52,54,56,58,60,62,64,66,68,70,72,74,76,78,80], "labelExpr": "datum.value % 10 === 0 ? datum.label : ''", "title": "χH [%]", "tickSize": {"condition": {"test": "datum.value % 10 === 0", "value": -7}, "value": -3.5}}},
              "color": {"field": "l", "type": "ordinal", "scale": {"domain": ["-6.5","-6.0","-5.5","-5.1","-4.6","-4.1","-3.6","-3.1","-2.6"], "range": ["#000000","#6a009d","#0035dd","#00a4bb","#009b0f","#00e100","#ccf900","#ffb000","#e40000"]}, "legend": null},
              "detail": {"field": "s"}}}
         ],
         "resolve": {"axis": {"x": "independent", "y": "independent"}}},
        {"width": 135, "height": 185,
         "layer": [
           {"data": {"values": [{}]}, "mark": {"type": "rule", "color": "#8c8c8c", "strokeWidth": 2.5},
            "encoding": {
              "x": {"datum": -6.65, "type": "quantitative", "scale": {"domain": [-6.65, 0.02], "nice": false}, "axis": {"orient": "top", "values": [-6,-5,-4,-3,-2,-1,0], "labels": false, "title": null, "tickSize": {"condition": {"test": "datum.value % 5 === 0", "value": -7}, "value": -3.5}}},
              "x2": {"datum": 0.02},
              "y": {"datum": 15, "type": "quantitative", "scale": {"domain": [4.2, 80], "nice": false}, "axis": {"orient": "right", "values": [6,8,10,12,14,16,18,20,22,24,26,28,30,32,34,36,38,40,42,44,46,48,50,52,54,56,58,60,62,64,66,68,70,72,74,76,78,80], "labels": false, "title": null, "tickSize": {"condition": {"test": "datum.value % 10 === 0", "value": -7}, "value": -3.5}}}}},
           {"data": {"name": "curves"}, "transform": [{"filter": "datum.p === '2H'"}], "mark": {"type": "line", "strokeWidth": 2.8, "clip": true},
            "encoding": {
              "x": {"field": "x", "type": "quantitative", "scale": {"domain": [-6.65, 0.02], "nice": false}, "axis": {"orient": "bottom", "values": [-6,-5,-4,-3,-2,-1,0], "format": ".0f", "labelExpr": "datum.value % 5 === 0 ? datum.label : ''", "title": "log τ₁", "tickSize": {"condition": {"test": "datum.value % 5 === 0", "value": -7}, "value": -3.5}}},
              "y": {"field": "y", "type": "quantitative", "scale": {"domain": [4.2, 80], "nice": false}, "axis": {"orient": "left", "values": [6,8,10,12,14,16,18,20,22,24,26,28,30,32,34,36,38,40,42,44,46,48,50,52,54,56,58,60,62,64,66,68,70,72,74,76,78,80], "labels": false, "title": null, "tickSize": {"condition": {"test": "datum.value % 10 === 0", "value": -7}, "value": -3.5}}},
              "color": {"field": "l", "type": "ordinal", "scale": {"domain": ["-6.5","-6.0","-5.5","-5.1","-4.6","-4.1","-3.6","-3.1","-2.6"], "range": ["#000000","#6a009d","#0035dd","#00a4bb","#009b0f","#00e100","#ccf900","#ffb000","#e40000"]}, "legend": null},
              "detail": {"field": "s"}}}
         ],
         "resolve": {"axis": {"x": "independent", "y": "independent"}}},
        {"width": 135, "height": 185,
         "layer": [
           {"data": {"values": [{}]}, "mark": {"type": "rule", "color": "#8c8c8c", "strokeWidth": 2.5},
            "encoding": {
              "x": {"datum": -6.58, "type": "quantitative", "scale": {"domain": [-6.58, -0.5], "nice": false}, "axis": {"orient": "top", "values": [-6.5,-6,-5.5,-5,-4.5,-4,-3.5,-3,-2.5,-2,-1.5,-1,-0.5], "labels": false, "title": null, "tickSize": {"condition": {"test": "datum.value % 2.5 === 0", "value": -7}, "value": -3.5}}},
              "x2": {"datum": -0.5},
              "y": {"datum": 15, "type": "quantitative", "scale": {"domain": [4.2, 80], "nice": false}, "axis": {"orient": "right", "values": [6,8,10,12,14,16,18,20,22,24,26,28,30,32,34,36,38,40,42,44,46,48,50,52,54,56,58,60,62,64,66,68,70,72,74,76,78,80], "labels": false, "title": null, "tickSize": {"condition": {"test": "datum.value % 10 === 0", "value": -7}, "value": -3.5}}}}},
           {"data": {"name": "curves"}, "transform": [{"filter": "datum.p === '3H'"}], "mark": {"type": "line", "strokeWidth": 2.8, "clip": true},
            "encoding": {
              "x": {"field": "x", "type": "quantitative", "scale": {"domain": [-6.58, -0.5], "nice": false}, "axis": {"orient": "bottom", "values": [-6.5,-6,-5.5,-5,-4.5,-4,-3.5,-3,-2.5,-2,-1.5,-1,-0.5], "format": ".1f", "labelExpr": "datum.value % 2.5 === 0 ? datum.label : ''", "title": "log τ₁", "tickSize": {"condition": {"test": "datum.value % 2.5 === 0", "value": -7}, "value": -3.5}}},
              "y": {"field": "y", "type": "quantitative", "scale": {"domain": [4.2, 80], "nice": false}, "axis": {"orient": "left", "values": [6,8,10,12,14,16,18,20,22,24,26,28,30,32,34,36,38,40,42,44,46,48,50,52,54,56,58,60,62,64,66,68,70,72,74,76,78,80], "labels": false, "title": null, "tickSize": {"condition": {"test": "datum.value % 10 === 0", "value": -7}, "value": -3.5}}},
              "color": {"field": "l", "type": "ordinal", "scale": {"domain": ["-6.5","-6.0","-5.5","-5.1","-4.6","-4.1","-3.6","-3.1","-2.6"], "range": ["#000000","#6a009d","#0035dd","#00a4bb","#009b0f","#00e100","#ccf900","#ffb000","#e40000"]}, "legend": null},
              "detail": {"field": "s"}}}
         ],
         "resolve": {"axis": {"x": "independent", "y": "independent"}}},
        {"width": 135, "height": 185,
         "layer": [
           {"data": {"values": [{}]}, "mark": {"type": "rule", "color": "#8c8c8c", "strokeWidth": 2.5},
            "encoding": {
              "x": {"datum": -6.52, "type": "quantitative", "scale": {"domain": [-6.52, -1.15], "nice": false}, "axis": {"orient": "top", "values": [-6.5,-6,-5.5,-5,-4.5,-4,-3.5,-3,-2.5,-2,-1.5], "labels": false, "title": null, "tickSize": {"condition": {"test": "datum.value % 2.5 === 0", "value": -7}, "value": -3.5}}},
              "x2": {"datum": -1.15},
              "y": {"datum": 15, "type": "quantitative", "scale": {"domain": [4.2, 80], "nice": false}, "axis": {"orient": "right", "values": [6,8,10,12,14,16,18,20,22,24,26,28,30,32,34,36,38,40,42,44,46,48,50,52,54,56,58,60,62,64,66,68,70,72,74,76,78,80], "labels": false, "title": null, "tickSize": {"condition": {"test": "datum.value % 10 === 0", "value": -7}, "value": -3.5}}}}},
           {"data": {"name": "curves"}, "transform": [{"filter": "datum.p === '4H'"}], "mark": {"type": "line", "strokeWidth": 2.8, "clip": true},
            "encoding": {
              "x": {"field": "x", "type": "quantitative", "scale": {"domain": [-6.52, -1.15], "nice": false}, "axis": {"orient": "bottom", "values": [-6.5,-6,-5.5,-5,-4.5,-4,-3.5,-3,-2.5,-2,-1.5], "format": ".1f", "labelExpr": "datum.value % 2.5 === 0 ? datum.label : ''", "title": "log τ₁", "tickSize": {"condition": {"test": "datum.value % 2.5 === 0", "value": -7}, "value": -3.5}}},
              "y": {"field": "y", "type": "quantitative", "scale": {"domain": [4.2, 80], "nice": false}, "axis": {"orient": "left", "values": [6,8,10,12,14,16,18,20,22,24,26,28,30,32,34,36,38,40,42,44,46,48,50,52,54,56,58,60,62,64,66,68,70,72,74,76,78,80], "labels": false, "title": null, "tickSize": {"condition": {"test": "datum.value % 10 === 0", "value": -7}, "value": -3.5}}},
              "color": {"field": "l", "type": "ordinal", "scale": {"domain": ["-6.5","-6.0","-5.5","-5.1","-4.6","-4.1","-3.6","-3.1","-2.6"], "range": ["#000000","#6a009d","#0035dd","#00a4bb","#009b0f","#00e100","#ccf900","#ffb000","#e40000"]}, "legend": null},
              "detail": {"field": "s"}}}
         ],
         "resolve": {"axis": {"x": "independent", "y": "independent"}}},
        {"width": 135, "height": 185,
         "layer": [
           {"data": {"values": [{}]}, "mark": {"type": "rule", "color": "#8c8c8c", "strokeWidth": 2.5},
            "encoding": {
              "x": {"datum": -6.53, "type": "quantitative", "scale": {"domain": [-6.53, -1.9], "nice": false}, "axis": {"orient": "top", "values": [-6.5,-6,-5.5,-5,-4.5,-4,-3.5,-3,-2.5,-2], "labels": false, "title": null, "tickSize": {"condition": {"test": "datum.value % 2.5 === 0", "value": -7}, "value": -3.5}}},
              "x2": {"datum": -1.9},
              "y": {"datum": 15, "type": "quantitative", "scale": {"domain": [4.2, 80], "nice": false}, "axis": {"orient": "right", "values": [6,8,10,12,14,16,18,20,22,24,26,28,30,32,34,36,38,40,42,44,46,48,50,52,54,56,58,60,62,64,66,68,70,72,74,76,78,80], "labels": false, "title": null, "tickSize": {"condition": {"test": "datum.value % 10 === 0", "value": -7}, "value": -3.5}}}}},
           {"data": {"name": "curves"}, "transform": [{"filter": "datum.p === '5H'"}], "mark": {"type": "line", "strokeWidth": 2.8, "clip": true},
            "encoding": {
              "x": {"field": "x", "type": "quantitative", "scale": {"domain": [-6.53, -1.9], "nice": false}, "axis": {"orient": "bottom", "values": [-6.5,-6,-5.5,-5,-4.5,-4,-3.5,-3,-2.5,-2], "format": ".1f", "labelExpr": "datum.value % 2.5 === 0 ? datum.label : ''", "title": "log τ₁", "tickSize": {"condition": {"test": "datum.value % 2.5 === 0", "value": -7}, "value": -3.5}}},
              "y": {"field": "y", "type": "quantitative", "scale": {"domain": [4.2, 80], "nice": false}, "axis": {"orient": "left", "values": [6,8,10,12,14,16,18,20,22,24,26,28,30,32,34,36,38,40,42,44,46,48,50,52,54,56,58,60,62,64,66,68,70,72,74,76,78,80], "labels": false, "title": null, "tickSize": {"condition": {"test": "datum.value % 10 === 0", "value": -7}, "value": -3.5}}},
              "color": {"field": "l", "type": "ordinal", "scale": {"domain": ["-6.5","-6.0","-5.5","-5.1","-4.6","-4.1","-3.6","-3.1","-2.6"], "range": ["#000000","#6a009d","#0035dd","#00a4bb","#009b0f","#00e100","#ccf900","#ffb000","#e40000"]}, "legend": null},
              "detail": {"field": "s"}}}
         ],
         "resolve": {"axis": {"x": "independent", "y": "independent"}}},
        {"width": 135, "height": 185,
         "layer": [
           {"data": {"values": [{}]}, "mark": {"type": "rule", "color": "#8c8c8c", "strokeWidth": 2.5},
            "encoding": {
              "x": {"datum": -6.48, "type": "quantitative", "scale": {"domain": [-6.48, -2.9], "nice": false}, "axis": {"orient": "top", "values": [-6.5,-6,-5.5,-5,-4.5,-4,-3.5,-3], "labels": false, "title": null, "tickSize": {"condition": {"test": "datum.value % 2 === 0", "value": -7}, "value": -3.5}}},
              "x2": {"datum": -2.9},
              "y": {"datum": 15, "type": "quantitative", "scale": {"domain": [4.2, 80], "nice": false}, "axis": {"orient": "right", "values": [6,8,10,12,14,16,18,20,22,24,26,28,30,32,34,36,38,40,42,44,46,48,50,52,54,56,58,60,62,64,66,68,70,72,74,76,78,80], "labels": false, "title": null, "tickSize": {"condition": {"test": "datum.value % 10 === 0", "value": -7}, "value": -3.5}}}}},
           {"data": {"name": "curves"}, "transform": [{"filter": "datum.p === '6H'"}], "mark": {"type": "line", "strokeWidth": 2.8, "clip": true},
            "encoding": {
              "x": {"field": "x", "type": "quantitative", "scale": {"domain": [-6.48, -2.9], "nice": false}, "axis": {"orient": "bottom", "values": [-6.5,-6,-5.5,-5,-4.5,-4,-3.5,-3], "format": ".0f", "labelExpr": "datum.value % 2 === 0 ? datum.label : ''", "title": "log τ₁", "tickSize": {"condition": {"test": "datum.value % 2 === 0", "value": -7}, "value": -3.5}}},
              "y": {"field": "y", "type": "quantitative", "scale": {"domain": [4.2, 80], "nice": false}, "axis": {"orient": "left", "values": [6,8,10,12,14,16,18,20,22,24,26,28,30,32,34,36,38,40,42,44,46,48,50,52,54,56,58,60,62,64,66,68,70,72,74,76,78,80], "labels": false, "title": null, "tickSize": {"condition": {"test": "datum.value % 10 === 0", "value": -7}, "value": -3.5}}},
              "color": {"field": "l", "type": "ordinal", "scale": {"domain": ["-6.5","-6.0","-5.5","-5.1","-4.6","-4.1","-3.6","-3.1","-2.6"], "range": ["#000000","#6a009d","#0035dd","#00a4bb","#009b0f","#00e100","#ccf900","#ffb000","#e40000"]}, "legend": null},
              "detail": {"field": "s"}}}
         ],
         "resolve": {"axis": {"x": "independent", "y": "independent"}}}
      ]
    },
    {
      "data": {"values": [{"l":"-2.6"},{"l":"-3.1"},{"l":"-3.6"},{"l":"-4.1"},{"l":"-4.6"},{"l":"-5.1"},{"l":"-5.5"},{"l":"-6.0"},{"l":"-6.5"}]},
      "width": 12,
      "height": 378,
      "title": {"text": "log τ₂", "orient": "bottom", "anchor": "start", "fontSize": 15, "offset": 10, "frame": "group"},
      "mark": {"type": "rect"},
      "encoding": {
        "x": {"datum": 0, "type": "quantitative", "scale": {"domain": [0, 1], "nice": false}, "axis": null},
        "x2": {"datum": 1},
        "y": {"field": "l", "type": "ordinal", "sort": null, "scale": {"paddingInner": 0, "paddingOuter": 0}, "axis": {"orient": "right", "title": null, "tickSize": 4, "labelPadding": 5}},
        "color": {"field": "l", "type": "ordinal", "scale": {"domain": ["-6.5","-6.0","-5.5","-5.1","-4.6","-4.1","-3.6","-3.1","-2.6"], "range": ["#000000","#6a009d","#0035dd","#00a4bb","#009b0f","#00e100","#ccf900","#ffb000","#e40000"]}, "legend": null}
      }
    }
  ]
}
